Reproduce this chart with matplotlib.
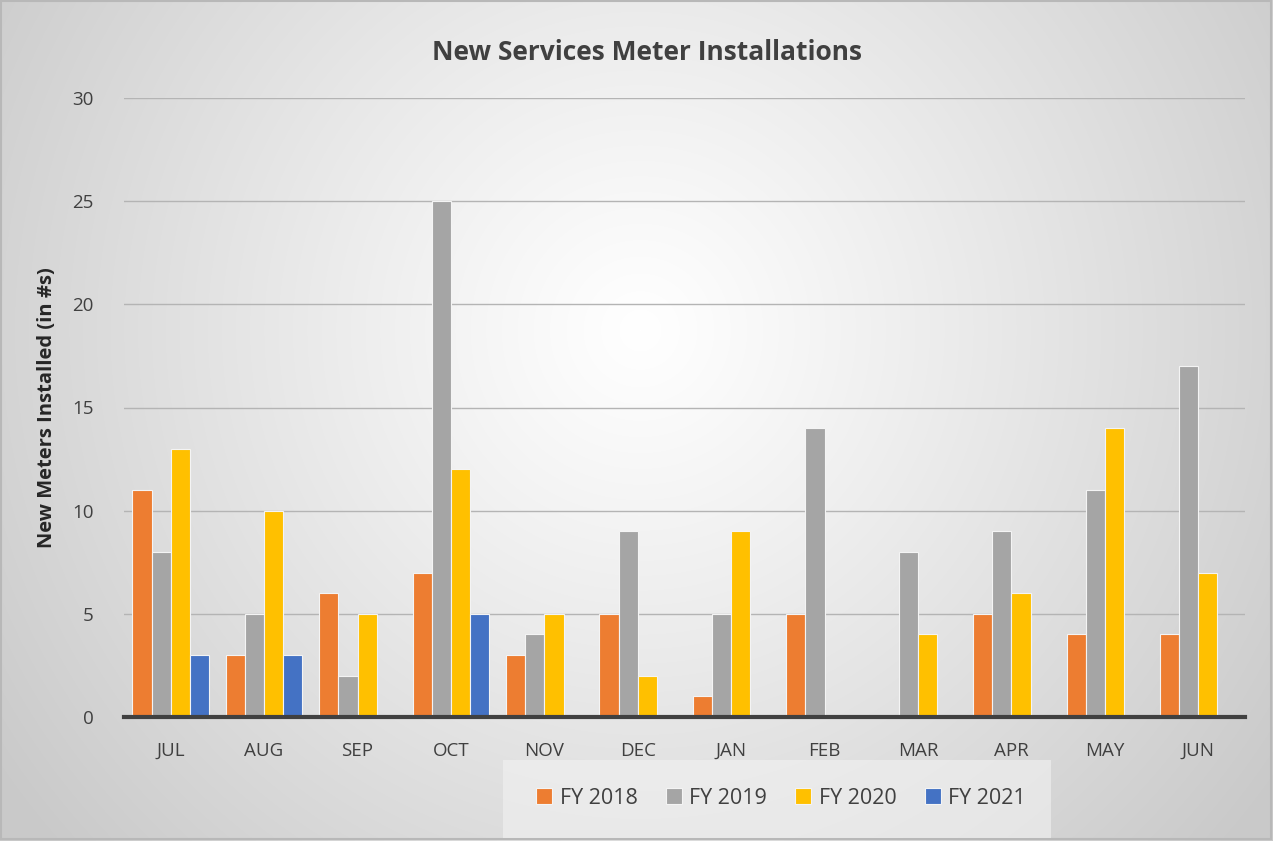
import numpy as np
import matplotlib
matplotlib.use("Agg")
import matplotlib.pyplot as plt
from matplotlib.patches import Rectangle

months = ["JUL", "AUG", "SEP", "OCT", "NOV", "DEC", "JAN", "FEB", "MAR", "APR", "MAY", "JUN"]
series_names = ["FY 2018", "FY 2019", "FY 2020", "FY 2021"]
fy2018 = [11, 3, 6, 7, 3, 5, 1, 5, 0, 5, 4, 4]
fy2019 = [8, 5, 2, 25, 4, 9, 5, 14, 8, 9, 11, 17]
fy2020 = [13, 10, 5, 12, 5, 2, 9, 0, 4, 6, 14, 7]
fy2021 = [3, 3, 0, 5, 0, 0, 0, 0, 0, 0, 0, 0]
colors = ["#ED7D31", "#A5A5A5", "#FFC000", "#4472C4"]
yticks = [0, 5, 10, 15, 20, 25, 30]

plt.rcParams['font.family'] = ['Open Sans', 'DejaVu Sans']

W, H = 1273, 841
fig = plt.figure(figsize=(W / 100, H / 100), dpi=100)

# radial gradient background
bg = fig.add_axes([0, 0, 1, 1], zorder=-10)
yy, xx = np.mgrid[0:H, 0:W]
cx, cy = 640, 330
r = np.sqrt((xx - cx) ** 2 + (yy - cy) ** 2)
rn = np.clip(r / 780.0, 0, 1)
val = 1.0 - 0.21 * rn ** 1.1
img = np.dstack([val, val, val])
bg.imshow(img, extent=[0, W, H, 0], aspect='auto', interpolation='bilinear')
bg.set_xlim(0, W)
bg.set_ylim(H, 0)
bg.axis('off')
bg.add_patch(Rectangle((1, 1), W - 3, H - 3, fill=False, edgecolor="#b8b8b8", lw=1.5))
bg.add_patch(Rectangle((503, 760), 548, 78, facecolor="#f2f2f2", edgecolor="none", alpha=0.6))

ax = fig.add_axes([124 / W, 1 - 717 / H, (1245 - 124) / W, (717 - 98) / H])
ax.set_facecolor("none")

x = np.arange(len(months))
bw = 0.205
data = [fy2018, fy2019, fy2020, fy2021]
for i, (vals, c, name) in enumerate(zip(data, colors, series_names)):
    ax.bar(x + (i - 1.5) * bw, vals, width=bw, color=c, edgecolor="#f4f4f4",
           linewidth=0.8, label=name, zorder=3)

ax.set_xlim(-0.5, len(months) - 0.5)
ax.set_ylim(0, 30)
ax.set_yticks(yticks)
ax.set_yticklabels([str(v) for v in yticks], fontsize=13.5, color="#404040")
ax.set_xticks(x)
ax.set_xticklabels(months, fontsize=13.5, color="#404040")
ax.tick_params(axis='both', length=0)
ax.tick_params(axis='x', pad=18)
ax.tick_params(axis='y', pad=22)
ax.yaxis.grid(True, color="#b4b4b4", linewidth=1.0, zorder=0)
for s in ["top", "right", "left"]:
    ax.spines[s].set_visible(False)
ax.spines["bottom"].set_color("#404040")
ax.spines["bottom"].set_linewidth(3)
ax.spines["bottom"].set_zorder(5)

ax.set_ylabel("New Meters Installed (in #s)", fontsize=14.5, fontweight='bold',
              color="#262626")
ax.yaxis.set_label_coords(-67 / (1245 - 124), 0.5)

fig.text(647 / W, 1 - 52 / H, "New Services Meter Installations", ha='center', va='center',
         fontsize=19, fontweight='bold', color="#404040")

leg = fig.legend(loc='center', bbox_to_anchor=(781 / W, 1 - 798 / H), ncol=4,
                 frameon=False, fontsize=15.5, handlelength=0.75, handleheight=0.75,
                 handletextpad=0.35, columnspacing=1.3, labelcolor="#404040")

fig.savefig("out.png", dpi=100)
